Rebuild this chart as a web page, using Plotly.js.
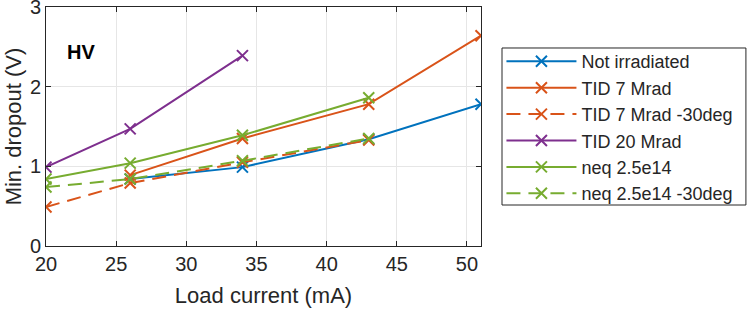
<!DOCTYPE html>
<html>
<head>
<meta charset="utf-8">
<script src="https://cdn.plot.ly/plotly-3.0.1.min.js"></script>
<style>html,body{margin:0;padding:0;background:#fff;}#chart{width:747px;height:310px;}</style>
</head>
<body>
<div id="chart"></div>
<script>
const seriesNames = ["Not irradiated", "TID 7 Mrad", "TID 7 Mrad -30deg", "TID 20 Mrad", "neq 2.5e14", "neq 2.5e14 -30deg"];
const xNotIrr = [26, 34, 43, 51];
const yNotIrr = [0.84, 0.99, 1.34, 1.78];
const xTid7 = [26, 34, 43, 51];
const yTid7 = [0.89, 1.35, 1.78, 2.64];
const xTid7deg = [20, 26, 34, 43];
const yTid7deg = [0.49, 0.79, 1.05, 1.33];
const xTid20 = [20, 26, 34];
const yTid20 = [0.99, 1.47, 2.39];
const xNeq = [20, 26, 34, 43];
const yNeq = [0.84, 1.04, 1.39, 1.86];
const xNeqDeg = [20, 26, 34, 43];
const yNeqDeg = [0.74, 0.84, 1.07, 1.35];
const xTicks = [20, 25, 30, 35, 40, 45, 50];
const yTicks = [0, 1, 2, 3];

const colors = ["#0072BD", "#D95319", "#D95319", "#7E2F8E", "#77AC30", "#77AC30"];
const dashes = ["solid", "solid", "14px,8px", "solid", "solid", "14px,8px"];
const xs = [xNotIrr, xTid7, xTid7deg, xTid20, xNeq, xNeqDeg];
const ys = [yNotIrr, yTid7, yTid7deg, yTid20, yNeq, yNeqDeg];

const traces = seriesNames.map((n, i) => ({
  x: xs[i], y: ys[i], name: n, type: "scatter", mode: "lines+markers",
  line: {color: colors[i], width: 2, dash: dashes[i]},
  marker: {symbol: "x-thin-open", size: 11, color: colors[i], line: {color: colors[i], width: 2}}
}));

const fam = "Liberation Sans, Arial, sans-serif";
const font = {family: fam, color: "#262626"};
const layout = {
  width: 747, height: 310,
  margin: {l: 46, r: 266, t: 7, b: 64},
  paper_bgcolor: "#fff", plot_bgcolor: "#fff",
  font: Object.assign({size: 18}, font),
  showlegend: true,
  legend: {
    x: 1.047, y: 0.849, xanchor: "left", yanchor: "top",
    borderwidth: 0, bgcolor: "rgba(0,0,0,0)",
    font: Object.assign({size: 18}, font), itemwidth: 70, tracegroupgap: 0
  },
  shapes: [{
    type: "rect", xref: "paper", yref: "paper",
    x0: 1.0483, x1: 1.609, y0: 0.1715, y1: 0.8285,
    line: {color: "#262626", width: 1}, fillcolor: "rgba(0,0,0,0)"
  }],
  xaxis: {
    range: [20, 51], tickvals: xTicks, ticktext: xTicks.map(String),
    showgrid: true, gridcolor: "#e6e6e6", zeroline: false,
    showline: true, mirror: "ticks", linecolor: "#262626", linewidth: 1,
    ticks: "inside", ticklen: 5, tickcolor: "#262626",
    tickfont: Object.assign({size: 20}, font), ticklabeloverflow: "allow",
    title: {text: "Load current (mA)", font: Object.assign({size: 22}, font), standoff: 13}
  },
  yaxis: {
    range: [0, 3], tickvals: yTicks, ticktext: yTicks.map(String),
    showgrid: true, gridcolor: "#e6e6e6", zeroline: false,
    showline: true, mirror: "ticks", linecolor: "#262626", linewidth: 1,
    ticks: "inside", ticklen: 5, tickcolor: "#262626",
    tickfont: Object.assign({size: 20}, font), ticklabeloverflow: "allow",
    title: {text: "Min. dropout (V)", font: Object.assign({size: 22}, font), standoff: 2}
  },
  annotations: [{
    x: 22.5, y: 2.44, xref: "x", yref: "y", text: "<b>HV</b>", showarrow: false,
    font: {family: fam, size: 20, color: "#000"}
  }]
};
Plotly.newPlot("chart", traces, layout, {displayModeBar: false, staticPlot: true});
</script>
</body>
</html>
